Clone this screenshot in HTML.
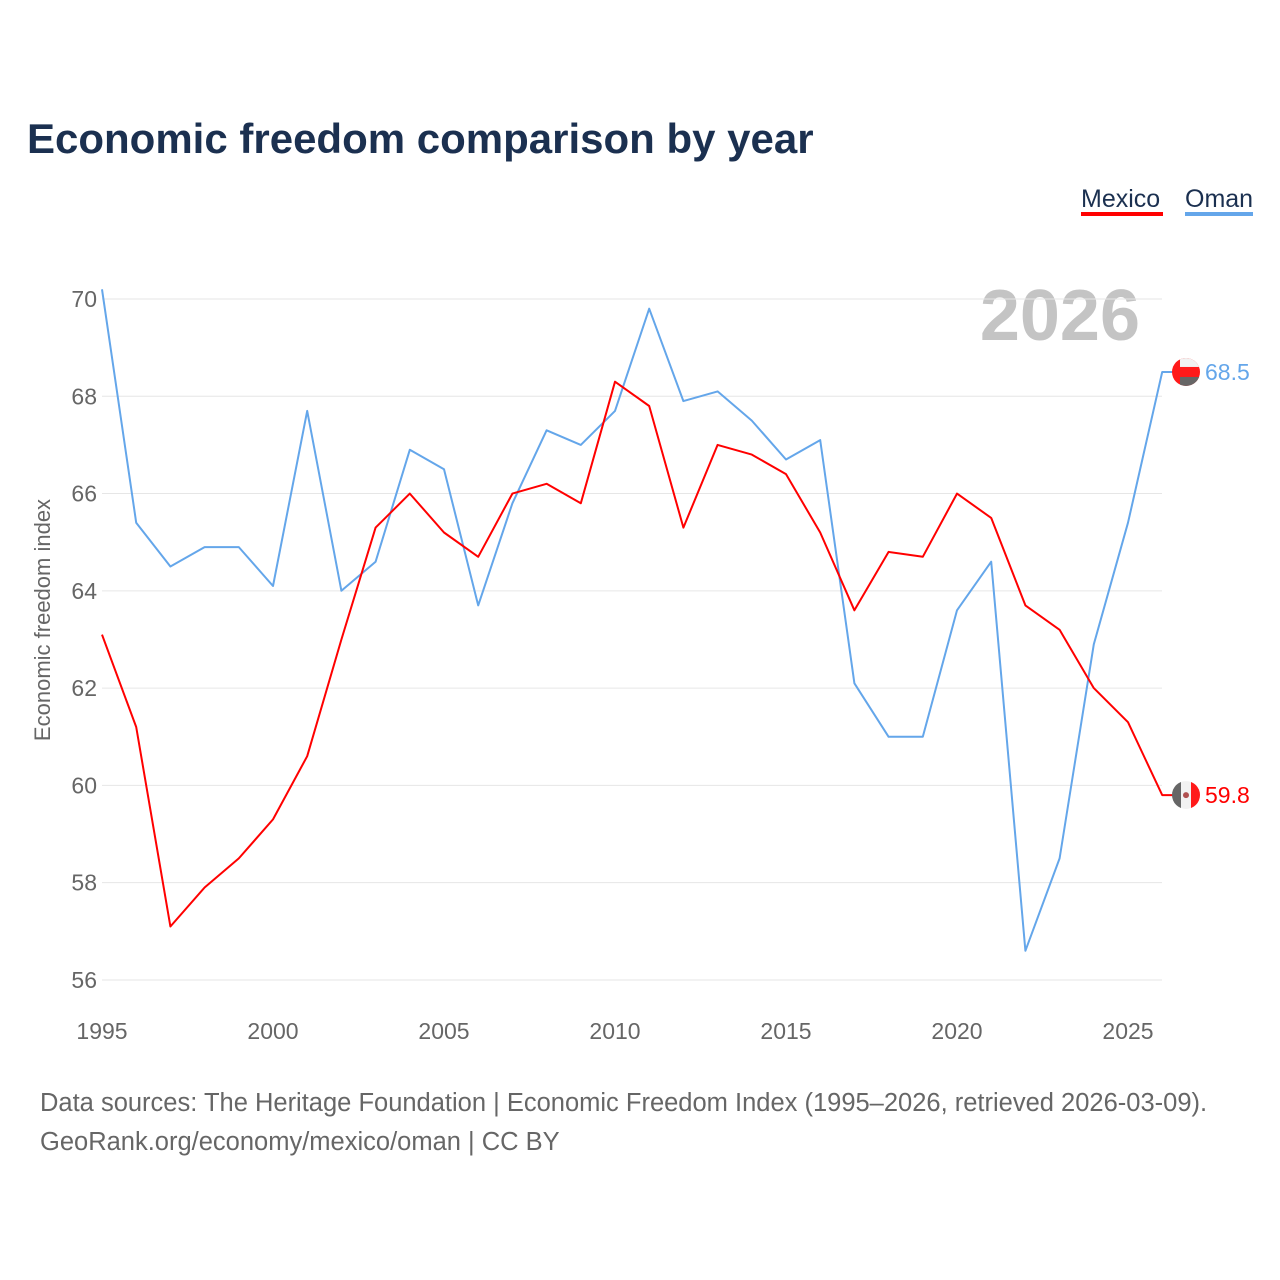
<!DOCTYPE html>
<html><head><meta charset="utf-8">
<style>
body{margin:0;background:#fff;font-family:"Liberation Sans",sans-serif;}
svg{display:block}
</style></head>
<body>
<svg id="chart" width="1280" height="1280" viewBox="0 0 1280 1280">
<defs>
<clipPath id="c1"><circle cx="1186" cy="372" r="14"/></clipPath>
<clipPath id="c2"><circle cx="1186" cy="795" r="14"/></clipPath>
</defs>
<rect width="1280" height="1280" fill="#fff"/>
<text x="27" y="153" font-size="42" font-weight="bold" fill="#1b3050">Economic freedom comparison by year</text>
<g>
<text x="1081" y="207" font-size="25" fill="#1b3050">Mexico</text>
<rect x="1081" y="212" width="82" height="4" fill="#ff0000"/>
<text x="1185" y="207" font-size="25" fill="#1b3050">Oman</text>
<rect x="1185" y="212" width="68" height="4" fill="#64a6ea"/>
</g>
<text x="1140" y="340" font-size="72" font-weight="bold" fill="#c4c4c4" text-anchor="end">2026</text>
<g id="grid"></g>
<g id="axes"></g>
<g id="series"></g>
<text transform="translate(50,620) rotate(-90)" font-size="22" fill="#666" text-anchor="middle">Economic freedom index</text>
<text x="40" y="1111" font-size="25.5" fill="#666">Data sources: The Heritage Foundation | Economic Freedom Index (1995–2026, retrieved 2026-03-09).</text>
<text x="40" y="1150" font-size="25.5" fill="#666">GeoRank.org/economy/mexico/oman | CC BY</text>
</svg>
<script>
const years=[1995,1996,1997,1998,1999,2000,2001,2002,2003,2004,2005,2006,2007,2008,2009,2010,2011,2012,2013,2014,2015,2016,2017,2018,2019,2020,2021,2022,2023,2024,2025,2026];
const mexico=[63.1,61.2,57.1,57.9,58.5,59.3,60.6,63.0,65.3,66.0,65.2,64.7,66.0,66.2,65.8,68.3,67.8,65.3,67.0,66.8,66.4,65.2,63.6,64.8,64.7,66.0,65.5,63.7,63.2,62.0,61.3,59.8];
const oman=[70.2,65.4,64.5,64.9,64.9,64.1,67.7,64.0,64.6,66.9,66.5,63.7,65.8,67.3,67.0,67.7,69.8,67.9,68.1,67.5,66.7,67.1,62.1,61.0,61.0,63.6,64.6,56.6,58.5,62.9,65.4,68.5];
const yTicks=[56,58,60,62,64,66,68,70];
const xTicks=[1995,2000,2005,2010,2015,2020,2025];
const NS="http://www.w3.org/2000/svg";
const x=v=>102+(v-1995)*34.2;
const y=v=>299+(70-v)*48.64;
function mk(tag,attrs,parent){const e=document.createElementNS(NS,tag);for(const k in attrs)e.setAttribute(k,attrs[k]);parent.appendChild(e);return e;}
const grid=document.getElementById('grid'),axes=document.getElementById('axes'),series=document.getElementById('series');
yTicks.forEach(t=>{
 const l=mk('line',{x1:102,x2:1162,y1:y(t),y2:y(t),stroke:'#e6e6e6','stroke-width':1},grid);
 
 
 const tx=mk('text',{x:97,y:y(t)+8,'font-size':23,fill:'#666','text-anchor':'end'},axes);
 tx.textContent=t;
 
 
});
xTicks.forEach(t=>{
 const tx=mk('text',{x:x(t),y:1039,'font-size':23,fill:'#666','text-anchor':'middle'},axes);
 tx.textContent=t;
 
 
});
function draw(vals,color,name){
 let d=vals.map((v,i)=>(i?'L':'M')+x(years[i]).toFixed(1)+','+y(v).toFixed(1)).join(' ');
 const last=vals[vals.length-1];
 const cy=y(last);
 d+=' L1174,'+cy.toFixed(1);
 const p=mk('path',{d:d,fill:'none',stroke:color,'stroke-width':2,'stroke-linejoin':'round'},series);
 
 
 const g=mk('g',{},series);
 
 
 g.setAttribute('clip-path', name==='oman'?'url(#c1)':'url(#c2)');
 if(name==='oman'){
  mk('rect',{x:1172,y:cy-14,width:28,height:28,fill:'#ff1a1a'},g);
  mk('rect',{x:1180,y:cy-14,width:20,height:9,fill:'#f2f2f2'},g);
  mk('rect',{x:1180,y:cy+5,width:20,height:9,fill:'#666'},g);
 } else {
  mk('rect',{x:1172,y:cy-14,width:9,height:28,fill:'#666'},g);
  mk('rect',{x:1181,y:cy-14,width:10,height:28,fill:'#f2f2f2'},g);
  mk('rect',{x:1191,y:cy-14,width:9,height:28,fill:'#ff1a1a'},g);
  mk('circle',{cx:1186,cy:cy,r:3,fill:'#b05050'},g);
 }
 const lb=mk('text',{x:1205,y:cy+8,'font-size':23,fill:color},series);
 lb.textContent=last.toFixed(1);
 
 
}
draw(oman,'#64a6ea','oman');
draw(mexico,'#ff0000','mexico');
</script>
</body></html>
